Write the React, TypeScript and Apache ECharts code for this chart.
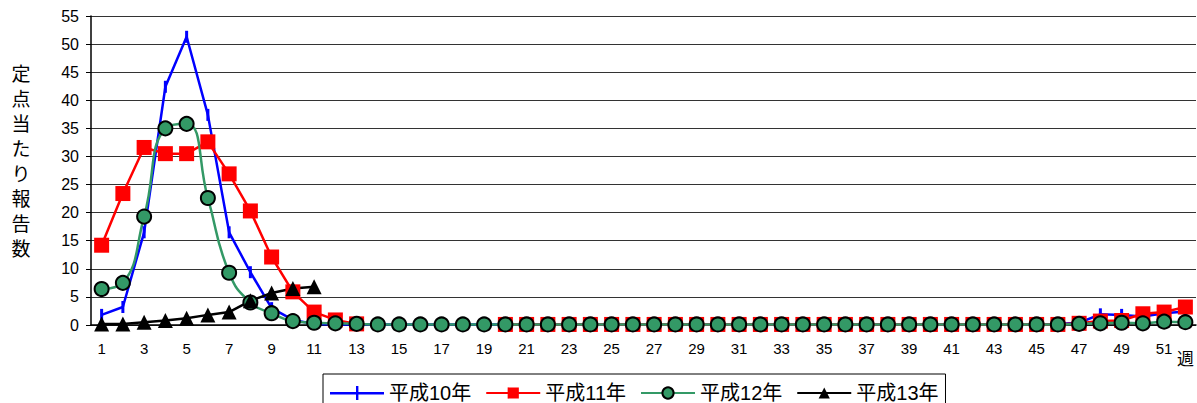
import React, { useEffect, useRef } from "react";
import * as echarts from "echarts";

const weeks = [
  "1", "2", "3", "4", "5", "6", "7", "8", "9", "10",
  "11", "12", "13", "14", "15", "16", "17", "18", "19", "20",
  "21", "22", "23", "24", "25", "26", "27", "28", "29", "30",
  "31", "32", "33", "34", "35", "36", "37", "38", "39", "40",
  "41", "42", "43", "44", "45", "46", "47", "48", "49", "50",
  "51", "52",
];
const lastWeekLabel = "週";
const yTitle = "定\n点\n当\nた\nり\n報\n告\n数";
const seriesNames = ["平成10年", "平成11年", "平成12年", "平成13年"];

const h10 = [
  1.8, 3.2, 16.5, 42.4, 51.3, 37.4, 16.5, 9.4, 3.0, 0.9,
  0.2, 0.1, 0.1, 0.1, 0.1, 0.1, 0.1, 0.1, 0.1, 0.1,
  0.1, 0.1, 0.1, 0.1, 0.1, 0.1, 0.1, 0.1, 0.1, 0.1,
  0.1, 0.1, 0.1, 0.1, 0.1, 0.1, 0.1, 0.1, 0.1, 0.1,
  0.1, 0.1, 0.1, 0.1, 0.1, 0.2, 0.4, 1.9, 1.8, 1.5,
  2.1, 2.4,
];
const h11 = [
  14.2, 23.4, 31.6, 30.5, 30.5, 32.6, 26.9, 20.3, 12.1, 5.9,
  2.3, 0.9, 0.2, null, null, null, null, null, null, 0.1,
  0.1, 0.1, 0.1, 0.1, 0.1, 0.1, 0.1, 0.1, 0.1, 0.1,
  0.1, 0.1, 0.1, 0.1, 0.1, 0.1, 0.1, 0.1, 0.1, 0.1,
  0.1, 0.1, 0.1, 0.1, 0.1, 0.1, 0.3, 0.7, 0.8, 2.0,
  2.3, 3.2,
];
const h12 = [
  6.4, 7.5, 19.3, 35.0, 35.8, 22.6, 9.3, 4.0, 2.1, 0.7,
  0.4, 0.3, 0.2, 0.1, 0.1, 0.1, 0.1, 0.1, 0.1, 0.1,
  0.1, 0.1, 0.1, 0.1, 0.1, 0.1, 0.1, 0.1, 0.1, 0.1,
  0.1, 0.1, 0.1, 0.1, 0.1, 0.1, 0.1, 0.1, 0.1, 0.1,
  0.1, 0.1, 0.1, 0.1, 0.1, 0.1, 0.2, 0.3, 0.4, 0.3,
  0.6, 0.5,
];
const h13 = [0.2, 0.2, 0.5, 0.8, 1.2, 1.8, 2.3, 4.3, 5.7, 6.5, 6.8];

const FONT = "'Liberation Sans', Arial, 'Noto Sans CJK JP', sans-serif";
const PLUS_ICON = "path://M0,6h54v2.4h-54z M26,0h2.4v14h-2.4z";

export default function App() {
  const ref = useRef<HTMLDivElement>(null);
  useEffect(() => {
    const chart = echarts.init(ref.current as HTMLDivElement, null, { renderer: "svg" });
    const option: any = {
      animation: false,
      backgroundColor: "#fff",
      textStyle: { fontFamily: FONT },
      grid: { left: 91, right: 1, top: 16, bottom: 78, containLabel: false },
      legend: {
        data: [
          { name: seriesNames[0], icon: PLUS_ICON },
          seriesNames[1],
          seriesNames[2],
          seriesNames[3],
        ],
        left: 323,
        top: 374,
        padding: [9, 7, 6, 7],
        itemGap: 14,
        itemWidth: 54,
        itemHeight: 14,
        borderColor: "#000",
        borderWidth: 1,
        textStyle: { fontSize: 20, color: "#000", fontFamily: FONT },
      },
      graphic: [
        {
          type: "text",
          x: 21,
          y: 60,
          style: {
            text: yTitle,
            fill: "#000",
            font: "19px 'Noto Sans CJK JP', sans-serif",
            lineHeight: 25,
            textAlign: "center",
            textVerticalAlign: "top",
          },
        },
      ],
      xAxis: {
        type: "category",
        data: weeks,
        boundaryGap: true,
        axisLine: { lineStyle: { color: "#000", width: 1.5 } },
        axisTick: { inside: true, length: 5, interval: 0, lineStyle: { color: "#000" } },
        axisLabel: {
          interval: 0,
          margin: 16,
          fontSize: 15,
          color: "#000",
          fontFamily: FONT,
          formatter: (v: string, idx: number) =>
            idx === weeks.length - 1 ? "{w|" + lastWeekLabel + "}" : idx % 2 === 0 ? v : "",
          rich: {
            w: { fontSize: 17, padding: [8, 0, 0, 0], color: "#000", fontFamily: "'Noto Sans CJK JP', sans-serif" },
          },
        },
        splitLine: { show: false },
      },
      yAxis: {
        type: "value",
        min: 0,
        max: 55,
        interval: 5,
        axisLine: { show: true, lineStyle: { color: "#000", width: 1.5 } },
        axisTick: { show: true, length: 5, lineStyle: { color: "#000" } },
        axisLabel: { fontSize: 16, color: "#000", margin: 12, fontFamily: FONT },
        splitLine: { lineStyle: { color: "#333", width: 1 } },
      },
      series: [
        {
          name: seriesNames[0],
          type: "line",
          data: h10,
          symbol: "rect",
          symbolSize: [3, 12],
          itemStyle: { color: "#0000FF" },
          lineStyle: { color: "#0000FF", width: 2.5 },
        },
        {
          name: seriesNames[1],
          type: "line",
          data: h11,
          symbol: "rect",
          symbolSize: 15,
          itemStyle: { color: "#FF0000" },
          lineStyle: { color: "#FF0000", width: 2.5 },
        },
        {
          name: seriesNames[2],
          type: "line",
          data: h12,
          smooth: true,
          symbol: "circle",
          symbolSize: 14,
          itemStyle: { color: "#339966", borderColor: "#000", borderWidth: 2 },
          lineStyle: { color: "#339966", width: 2.5 },
        },
        {
          name: seriesNames[3],
          type: "line",
          data: h13,
          symbol: "triangle",
          symbolSize: 15,
          itemStyle: { color: "#000" },
          lineStyle: { color: "#000", width: 2.5 },
        },
      ],
    };
    chart.setOption(option);
    return () => chart.dispose();
  }, []);
  return (
    <div
      ref={ref}
      style={{ position: "fixed", left: 0, top: 0, width: 1197, height: 403, background: "#fff" }}
    />
  );
}
